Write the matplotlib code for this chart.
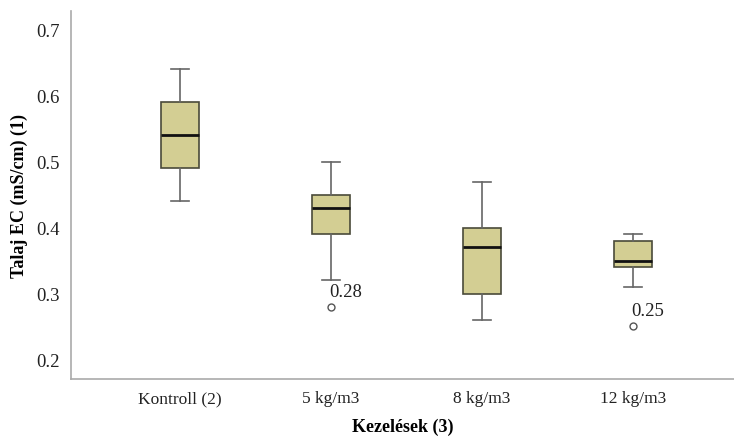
import matplotlib
matplotlib.use("Agg")
import matplotlib.pyplot as plt

plt.rcParams["font.family"] = ["Liberation Serif", "DejaVu Serif"]

# data
categories = ["Kontroll (2)", "5 kg/m3", "8 kg/m3", "12 kg/m3"]
whislo = [0.44, 0.32, 0.26, 0.31]
q1 = [0.49, 0.39, 0.30, 0.34]
med = [0.54, 0.43, 0.37, 0.35]
q3 = [0.59, 0.45, 0.40, 0.38]
whishi = [0.64, 0.50, 0.47, 0.39]
outliers = [[], [0.28], [], [0.25]]

stats = []
for i in range(len(categories)):
    stats.append({"whislo": whislo[i], "q1": q1[i], "med": med[i], "q3": q3[i],
                  "whishi": whishi[i], "fliers": outliers[i]})

fig = plt.figure(figsize=(7.34, 4.39), dpi=100)
ax = fig.add_axes([0.097, 0.134, 0.903, 0.839])

pos = list(range(len(categories)))
ax.bxp(stats, positions=pos, widths=0.25, patch_artist=True, capwidths=0.12,
       boxprops=dict(facecolor="#d3ce93", edgecolor="#4a4a3a", linewidth=1.2),
       medianprops=dict(color="#111111", linewidth=2),
       whiskerprops=dict(color="#666666", linewidth=1.2),
       capprops=dict(color="#666666", linewidth=1.2),
       flierprops=dict(marker="o", markersize=5, markerfacecolor="white",
                       markeredgecolor="#555555", markeredgewidth=1))

for i, vals in enumerate(outliers):
    for v in vals:
        ax.annotate("%.2f" % v, (pos[i], v), xytext=(-1, 8), textcoords="offset points",
                    fontsize=13.5, color="#222222")

ax.set_xlim(-0.72, 3.67)
ax.set_ylim(0.17, 0.729)
ax.set_yticks([0.2, 0.3, 0.4, 0.5, 0.6, 0.7])
ax.set_xticks(pos)
ax.set_xticklabels(categories)
ax.tick_params(length=0, colors="#222222", pad=8)
ax.tick_params(axis="x", labelsize=12.5)
ax.tick_params(axis="y", labelsize=13.5)
for s in ["top", "right"]:
    ax.spines[s].set_visible(False)
for s in ["left", "bottom"]:
    ax.spines[s].set_color("#aaaaaa")
    ax.spines[s].set_linewidth(1.2)

ax.set_xlabel("Kezelések (3)", fontsize=13, fontweight="bold", labelpad=8)
ax.set_ylabel("Talaj EC (mS/cm) (1)", fontsize=13, fontweight="bold", labelpad=6)

fig.savefig("out.png", dpi=100)
